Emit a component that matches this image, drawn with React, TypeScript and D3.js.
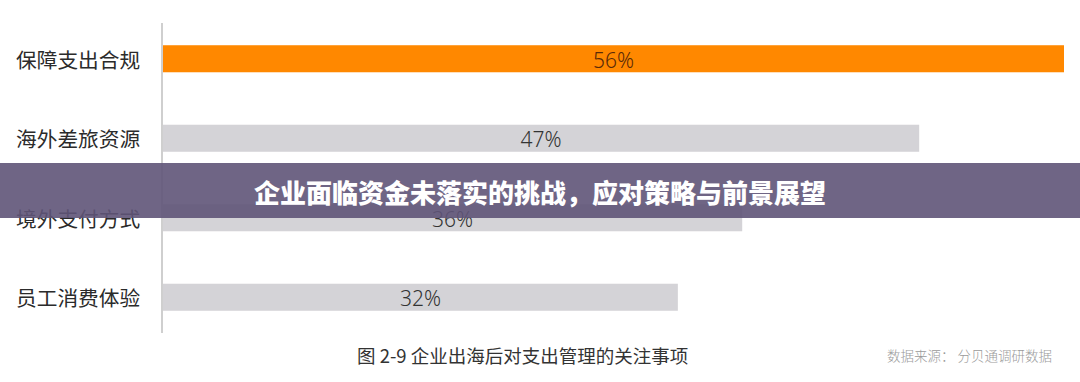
import React from "react";
import * as d3 from "d3";

const categories = ["保障支出合规", "海外差旅资源", "境外支付方式", "员工消费体验"];
const values = [56, 47, 36, 32];
const highlight = [true, false, false, false];
const title = "企业面临资金未落实的挑战，应对策略与前景展望";
const caption = "图 2-9 企业出海后对支出管理的关注事项";
const source = "数据来源： 分贝通调研数据";

const W = 1080;
const H = 382;

export default function App() {
  const x = d3.scaleLinear().domain([0, 56]).range([163, 1064]);
  const y = d3.scaleBand().domain(categories).range([19, 337]).paddingInner(0.66).paddingOuter(0.33);
  const font = "'Noto Sans CJK SC', 'Noto Sans', sans-serif";
  return (
    <svg width={W} height={H} style={{ position: "absolute", left: 0, top: 0, background: "#fff" }}>
      <rect x={0} y={0} width={W} height={H} fill="#fff" />
      {categories.map((c, i) => {
        const by = y(c)!;
        const bh = y.bandwidth();
        const x1 = x(values[i]);
        return (
          <g key={c}>
            <rect x={x(0)} y={by} width={x1 - x(0)} height={bh} fill={highlight[i] ? "#ff8800" : "#d4d3d7"} />
            <text x={16} y={by + bh / 2} dominantBaseline="central" fontFamily={font} fontSize={20.7} fill="#2b2b2b">{c}</text>
            <text x={(x(0) + x1) / 2} y={by + bh / 2 + 1} dominantBaseline="central" textAnchor="middle" fontFamily="'Noto Sans', sans-serif" fontWeight={300} fontSize={21} fill={highlight[i] ? "#5a2a08" : "#333"}>{values[i]}%</text>
          </g>
        );
      })}
      <line x1={162} x2={162} y1={23} y2={333} stroke="#cfcfcf" strokeWidth={2} />
      <rect x={0} y={163} width={W} height={55} fill="#5f5478" fillOpacity={0.9} />
      <text x={540} y={191} textAnchor="middle" dominantBaseline="central" fontFamily={font} fontWeight={900} fontSize={26} fill="#fff">{title}</text>
      <text x={357} y={355} dominantBaseline="central" fontFamily={font} fontSize={18.5} fill="#333">{caption}</text>
      <text x={1052} y={355} textAnchor="end" dominantBaseline="central" fontFamily={font} fontWeight={300} fontSize={13.5} fill="#9a9a9a">{source}</text>
    </svg>
  );
}
